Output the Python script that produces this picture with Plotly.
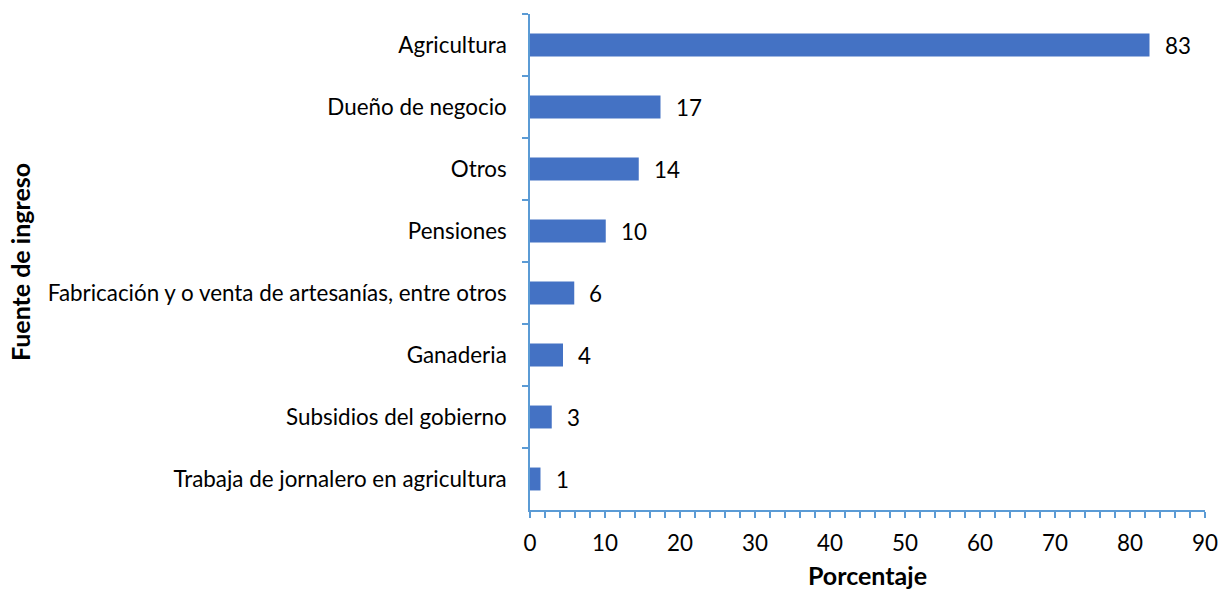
import plotly.graph_objects as go

categories = [
    "Agricultura",
    "Dueño de negocio",
    "Otros",
    "Pensiones",
    "Fabricación y o venta de artesanías, entre otros",
    "Ganaderia",
    "Subsidios del gobierno",
    "Trabaja de jornalero en agricultura",
]
values = [82.6, 17.4, 14.5, 10.1, 5.9, 4.4, 2.9, 1.4]
labels = ["83", "17", "14", "10", "6", "4", "3", "1"]
x_ticks = [0, 10, 20, 30, 40, 50, 60, 70, 80, 90]

FONT = "Lato"
FS = 22.4
AXIS_COLOR = "#5B9BD5"
BAR_COLOR = "#4472C4"

fig = go.Figure()
fig.add_trace(go.Bar(
    x=values, y=categories, orientation="h",
    marker=dict(color=BAR_COLOR, line=dict(width=0)),
    width=0.37,
    hoverinfo="x+y",
))

for v, c, t in zip(values, categories, labels):
    fig.add_annotation(x=v, y=c, text=t, showarrow=False, xanchor="left",
                       xshift=13, font=dict(family=FONT, size=FS, color="#000000"))

fig.update_layout(
    width=1219, height=590,
    margin=dict(l=530, r=14, t=14, b=80, autoexpand=False),
    plot_bgcolor="white", paper_bgcolor="white",
    showlegend=False,
    font=dict(family=FONT, size=FS, color="#000000"),
    xaxis=dict(
        range=[0, 90], tickvals=x_ticks, ticks="outside", ticklen=6,
        tickcolor=AXIS_COLOR, tickwidth=1.5,
        showline=True, linecolor=AXIS_COLOR, linewidth=1.5,
        showgrid=False, zeroline=False,
        minor=dict(dtick=2, ticks="outside", ticklen=6, tickcolor=AXIS_COLOR, tickwidth=1.5, showgrid=False),
        title=dict(text="<b>Porcentaje</b>", font=dict(family=FONT, size=25), standoff=14),
        tickfont=dict(family=FONT, size=FS),
        ticklabelstandoff=6,
        automargin=False,
    ),
    yaxis=dict(
        categoryorder="array", categoryarray=categories, autorange="reversed",
        ticks="outside", ticklen=6, tickcolor=AXIS_COLOR, tickwidth=1.5,
        tickson="boundaries",
        showline=True, linecolor=AXIS_COLOR, linewidth=1.5,
        showgrid=False, zeroline=False,
        ticklabelstandoff=17,
        title=dict(text="<b>Fuente de ingreso</b>", font=dict(family=FONT, size=25), standoff=10),
        tickfont=dict(family=FONT, size=FS),
        automargin=False,
    ),
)
fig.write_html("out.html", config={"displayModeBar": False},
               post_script="document.body.style.margin='0';")
